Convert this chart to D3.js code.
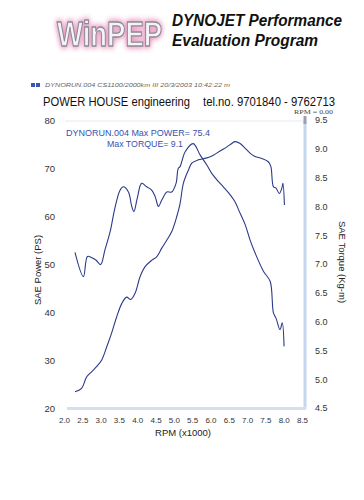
<!DOCTYPE html>
<html><head><meta charset="utf-8">
<script src="https://cdn.jsdelivr.net/npm/d3@7"></script>
<style>body{margin:0;background:#fff}svg{display:block}</style>
</head><body>
<svg id="c" width="364" height="500"></svg>
<script>
// RPM (x1000) sample points
const torqueRpm = [2.30,2.53,2.64,2.76,2.87,3.00,3.12,3.26,3.39,3.53,3.62,3.76,3.85,3.91,4.00,4.12,4.26,4.40,4.49,4.58,4.67,4.81,4.94,5.06,5.12,5.17,5.31,5.53,5.72,5.90,6.04,6.22,6.35,6.54,6.67,6.81,6.95,7.08,7.22,7.45,7.63,7.72,7.79,7.90,7.96,8.01];
const torqueVal = [7.20,6.78,7.13,7.11,7.07,6.99,7.25,7.56,7.97,8.28,8.34,8.25,8.00,7.91,8.14,8.40,8.34,8.28,8.17,8.00,8.11,8.25,8.25,8.40,8.66,8.69,8.95,9.09,8.89,8.72,8.57,8.43,8.34,8.20,8.08,7.88,7.68,7.42,7.19,6.87,6.70,6.15,6.06,5.86,5.98,5.57];
const powerRpm = [2.30,2.48,2.62,2.76,2.89,3.03,3.17,3.30,3.44,3.58,3.71,3.82,3.94,4.08,4.21,4.40,4.53,4.67,4.81,4.94,5.08,5.17,5.26,5.40,5.49,5.67,5.85,6.04,6.17,6.31,6.45,6.58,6.67,6.81,6.95,7.08,7.22,7.40,7.58,7.65,7.72,7.79,7.88,7.95,7.98,8.02];
const powerVal = [23.4,24.1,26.5,27.6,28.6,30.0,32.8,35.6,39.0,41.8,43.1,42.6,43.9,47.4,49.4,50.8,51.5,53.3,55.0,56.7,59.9,62.6,66.8,69.6,71.0,71.7,72.0,72.5,73.1,73.75,74.4,75.1,75.5,75.1,74.1,73.1,72.4,72.0,71.3,70.3,66.1,65.8,64.7,65.8,66.8,62.3];
const xTicks = [2.0,2.5,3.0,3.5,4.0,4.5,5.0,5.5,6.0,6.5,7.0,7.5,8.0,8.5];
const powerTicks = [20,30,40,50,60,70,80];
const torqueTicks = [4.5,5.0,5.5,6.0,6.5,7.0,7.5,8.0,8.5,9.0,9.5];

const svg = d3.select("#c");
const F = "Liberation Sans, Arial, sans-serif";
const x = d3.scaleLinear().domain([2.0,8.5]).range([64,302]);
const yP = d3.scaleLinear().domain([20,80]).range([408,120]);
const yT = d3.scaleLinear().domain([4.5,9.5]).range([408,120]);

// header logo
const defs = svg.append("defs");
const f = defs.append("filter").attr("id","glow").attr("x","-20%").attr("y","-40%").attr("width","140%").attr("height","180%");
f.append("feGaussianBlur").attr("in","SourceAlpha").attr("stdDeviation",2.5).attr("result","b");
f.append("feFlood").attr("flood-color","#e89ac0").attr("result","c");
f.append("feComposite").attr("in","c").attr("in2","b").attr("operator","in").attr("result","g");
const m = f.append("feMerge"); m.append("feMergeNode").attr("in","g"); m.append("feMergeNode").attr("in","g"); m.append("feMergeNode").attr("in","SourceGraphic");
svg.append("text").attr("transform","translate(57,46) scale(1,1.3)").attr("font-family",F).attr("font-weight","bold")
  .attr("font-size",27.5)
  .attr("fill","#f4f4f8").attr("stroke","#8a8a96").attr("stroke-width",1).attr("filter","url(#glow)").text("WinPEP");
svg.append("text").attr("x",172).attr("y",26).attr("font-family",F).attr("font-style","italic").attr("font-weight","bold")
  .attr("font-size",16).attr("textLength",170).attr("lengthAdjust","spacingAndGlyphs").attr("fill","#111").text("DYNOJET Performance");
svg.append("text").attr("x",172).attr("y",46).attr("font-family",F).attr("font-style","italic").attr("font-weight","bold")
  .attr("font-size",16).attr("textLength",146).attr("lengthAdjust","spacingAndGlyphs").attr("fill","#111").text("Evaluation Program");

// info line
svg.append("rect").attr("x",31).attr("y",83).attr("width",4).attr("height",4).attr("fill","#3a56b0");
svg.append("rect").attr("x",36).attr("y",83).attr("width",4).attr("height",4).attr("fill","#3a56b0");
svg.append("text").attr("x",45).attr("y",87).attr("font-family",F).attr("font-style","italic").attr("font-size",6)
  .attr("fill","#666").attr("textLength",185).attr("lengthAdjust","spacingAndGlyphs").text("DYNORUN.004    CS1100/2000km   III   20/3/2003 10:42:22 m");
svg.append("text").attr("x",43).attr("y",106).attr("font-family",F).attr("font-size",12.5).attr("fill","#111")
  .attr("textLength",147).attr("lengthAdjust","spacingAndGlyphs").text("POWER HOUSE engineering");
svg.append("text").attr("x",203).attr("y",106).attr("font-family",F).attr("font-size",12.5).attr("fill","#111")
  .attr("textLength",132).attr("lengthAdjust","spacingAndGlyphs").text("tel.no. 9701840 - 9762713");
svg.append("text").attr("x",294).attr("y",114).attr("font-family","Liberation Serif, serif").attr("font-size",7).attr("fill","#444")
  .attr("textLength",39).attr("lengthAdjust","spacingAndGlyphs").text("RPM = 0.00");

// frame
svg.append("line").attr("x1",65).attr("x2",305).attr("y1",121).attr("y2",121).attr("stroke","#e6e8ee").attr("stroke-width",1);
svg.append("line").attr("x1",305).attr("x2",305).attr("y1",121).attr("y2",409).attr("stroke","#c6d6ee").attr("stroke-width",3);
svg.append("line").attr("x1",305).attr("x2",305).attr("y1",116).attr("y2",124).attr("stroke","#9aa0b0").attr("stroke-width",3);
svg.append("line").attr("x1",67).attr("x2",306).attr("y1",408.5).attr("y2",408.5).attr("stroke","#d2e0f2").attr("stroke-width",3);

// axes
const axX = svg.append("g").attr("transform","translate(0,414)")
  .call(d3.axisBottom(x).tickValues(xTicks).tickSize(0).tickFormat(d3.format(".1f")));
const axL = svg.append("g").attr("transform","translate(58,0)")
  .call(d3.axisLeft(yP).tickValues(powerTicks).tickSize(0).tickFormat(d3.format("d")));
const axR = svg.append("g").attr("transform","translate(312,0)")
  .call(d3.axisRight(yT).tickValues(torqueTicks).tickSize(0).tickFormat(d3.format(".1f")));
[axX,axL,axR].forEach(a=>{a.select(".domain").remove();a.selectAll("text").attr("font-family",F).attr("fill","#333");});
axX.selectAll("text").attr("font-size",8);
axL.selectAll("text").attr("font-size",9.5);
axR.selectAll("text").attr("font-size",9);

svg.append("text").attr("x",183).attr("y",436).attr("text-anchor","middle").attr("font-family",F).attr("font-size",9.5).attr("fill","#222").text("RPM (x1000)");
svg.append("text").attr("transform","translate(41,270) rotate(-90)").attr("text-anchor","middle").attr("font-family",F).attr("font-size",9.5).attr("fill","#222").text("SAE Power (PS)");
svg.append("text").attr("transform","translate(339,262) rotate(90)").attr("text-anchor","middle").attr("font-family",F).attr("font-size",9.5).attr("fill","#222").text("SAE Torque (Kg-m)");

// annotation
svg.append("text").attr("x",66).attr("y",136).attr("font-family",F).attr("font-size",9.5).attr("fill","#3552b0")
  .attr("textLength",144).attr("lengthAdjust","spacingAndGlyphs").text("DYNORUN.004  Max POWER= 75.4");
svg.append("text").attr("x",107).attr("y",147).attr("font-family",F).attr("font-size",9.5).attr("fill","#3552b0")
  .attr("textLength",76).attr("lengthAdjust","spacingAndGlyphs").text("Max TORQUE= 9.1");

// curves
const lc = "#2b3a88";
const tData = torqueRpm.map((r,i)=>[r,torqueVal[i]]);
const pData = powerRpm.map((r,i)=>[r,powerVal[i]]);
svg.append("path").datum(tData).attr("fill","none").attr("stroke",lc).attr("stroke-width",1.1)
  .attr("d",d3.line().x(d=>x(d[0])).y(d=>yT(d[1])).curve(d3.curveCatmullRom.alpha(0.5)));
svg.append("path").datum(pData).attr("fill","none").attr("stroke",lc).attr("stroke-width",1.1)
  .attr("d",d3.line().x(d=>x(d[0])).y(d=>yP(d[1])).curve(d3.curveCatmullRom.alpha(0.5)));
</script>
</body></html>
